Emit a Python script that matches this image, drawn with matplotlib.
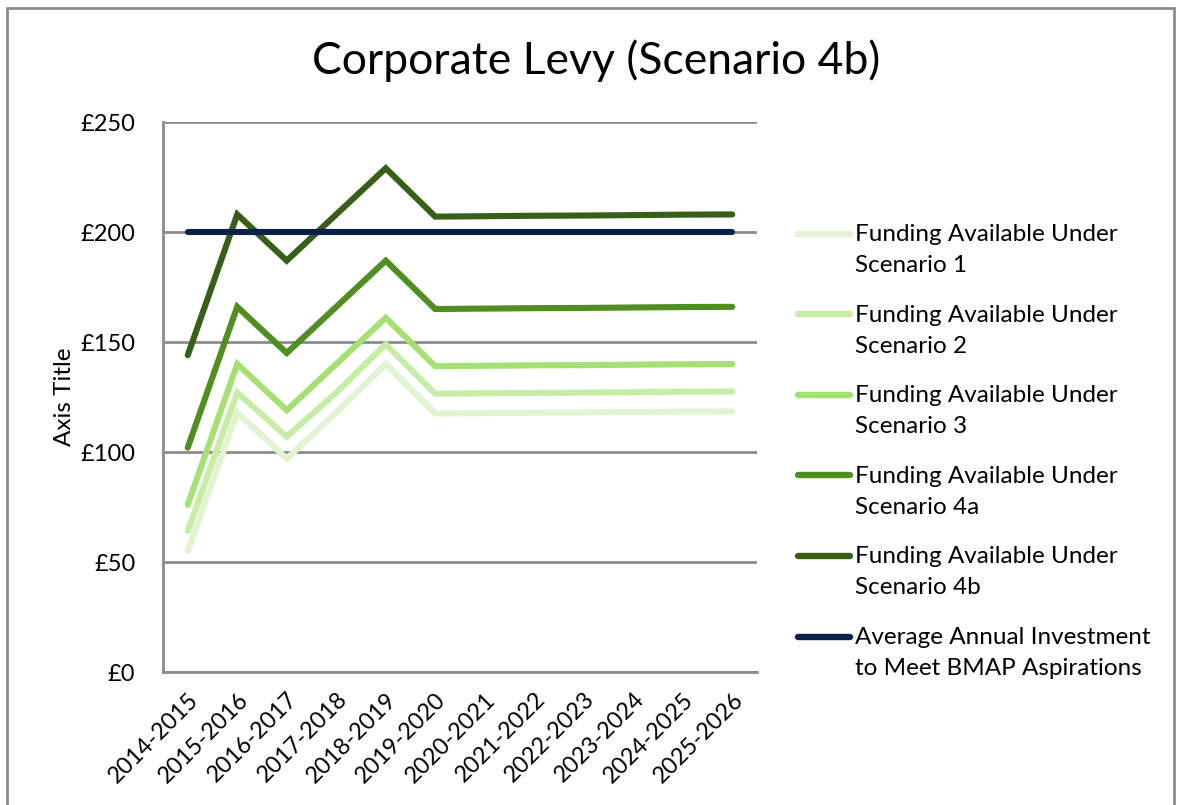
import matplotlib.pyplot as plt
from matplotlib.lines import Line2D
from matplotlib.patches import Rectangle

plt.rcParams['font.family'] = ['Lato', 'DejaVu Sans']

years = ['2014-2015', '2015-2016', '2016-2017', '2017-2018', '2018-2019',
         '2019-2020', '2020-2021', '2021-2022', '2022-2023', '2023-2024',
         '2024-2025', '2025-2026']

scenario_1 = [55, 118, 97, 118, 140, 117.5, 117.7, 117.9, 118.0, 118.2, 118.4, 118.5]
scenario_2 = [64, 127, 107, 127, 149, 126.5, 126.7, 126.9, 127.0, 127.2, 127.4, 127.5]
scenario_3 = [76, 140, 119, 140, 161, 139, 139.2, 139.4, 139.5, 139.7, 139.9, 140]
scenario_4a = [102, 166, 145, 166, 187, 165, 165.2, 165.4, 165.5, 165.7, 165.9, 166]
scenario_4b = [144, 208, 187, 208, 229, 207, 207.2, 207.4, 207.5, 207.7, 207.9, 208]
bmap = [200] * 12

series = [
    ('Funding Available Under\nScenario 1', scenario_1, '#E0F4D2'),
    ('Funding Available Under\nScenario 2', scenario_2, '#C6ECA5'),
    ('Funding Available Under\nScenario 3', scenario_3, '#A4E072'),
    ('Funding Available Under\nScenario 4a', scenario_4a, '#4F8E1F'),
    ('Funding Available Under\nScenario 4b', scenario_4b, '#375F17'),
    ('Average Annual Investment\nto Meet BMAP Aspirations', bmap, '#0B2148'),
]

fig = plt.figure(figsize=(11.81, 8.05), dpi=100)
ax = fig.add_axes([0.138, 0.1652, 0.503, 0.6832])

x = range(len(years))
for label, vals, col in series:
    ax.plot(x, vals, color=col, lw=4.4, solid_capstyle='round',
            solid_joinstyle='miter', zorder=3)

ax.set_xlim(-0.5, len(years) - 0.5)
ax.set_ylim(0, 250)
ax.set_yticks(range(0, 251, 50))
ax.set_yticklabels(['£%d' % v for v in range(0, 251, 50)], fontsize=17)
ax.set_xticks(list(x))
ax.set_xticklabels(years, rotation=45, ha='right', rotation_mode='anchor',
                   fontsize=16.8)
ax.tick_params(axis='y', length=0, pad=20)
ax.tick_params(axis='x', length=0, pad=12)
ax.grid(axis='y', color='#8C8C8C', lw=2)
ax.set_axisbelow(True)
for s in ['top', 'right']:
    ax.spines[s].set_visible(False)
for s in ['left', 'bottom']:
    ax.spines[s].set_color('#8C8C8C')
    ax.spines[s].set_linewidth(2)
ax.set_ylabel('Axis Title', fontsize=17.5, labelpad=4)

fig.text(0.505, 0.925, 'Corporate Levy (Scenario 4b)', fontsize=32,
         ha='center', va='center')

# legend drawn by hand so the key lines sit on the first text row
y0 = 1 - 234 / 805
step = 80.5 / 805
for i, (label, vals, col) in enumerate(series):
    yy = y0 - i * step
    fig.add_artist(Line2D([798 / 1181, 850 / 1181], [yy, yy], color=col,
                          lw=4.6, solid_capstyle='round'))
    fig.text(855 / 1181, yy + 10 / 805, label, fontsize=17.5, ha='left',
             va='top', linespacing=1.6)

fig.add_artist(Rectangle((0.006, -0.01), 0.988, 1.0, transform=fig.transFigure,
                         fill=False, edgecolor='#8C8C8C', lw=2))

fig.savefig('out.png', dpi=100)
